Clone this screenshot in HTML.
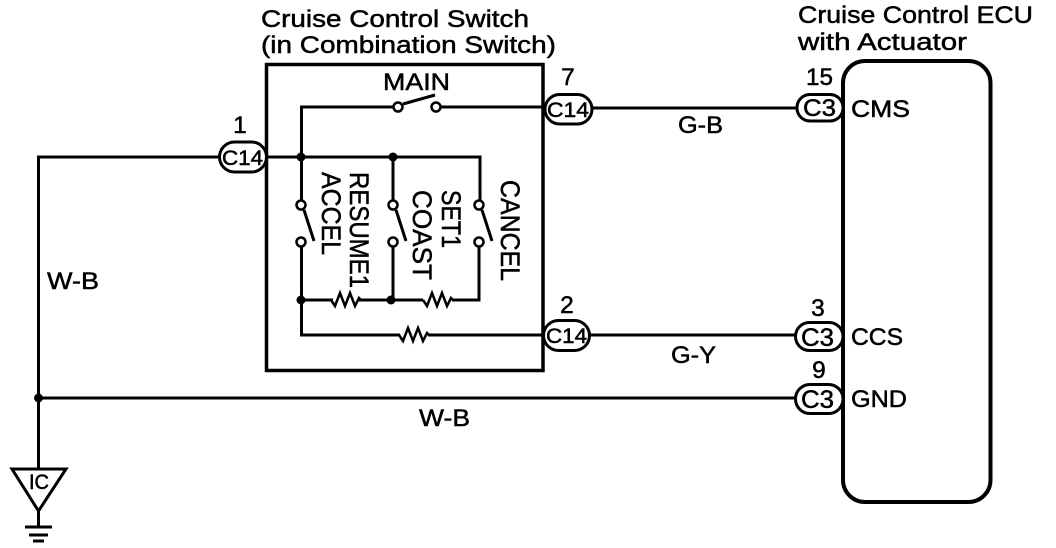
<!DOCTYPE html>
<html><head><meta charset="utf-8"><style>
html,body{margin:0;padding:0;background:#fff;width:1056px;height:548px;overflow:hidden}
svg{display:block}
text{font-family:"Liberation Sans",Arial,sans-serif;fill:#000;stroke:#000;stroke-width:.5}
.l{fill:none;stroke:#000;stroke-width:3}
.c{fill:#fff;stroke:#000;stroke-width:2.5}
.t{font-size:24.5px}
.r{font-size:27px}
</style></head><body>
<svg width="1056" height="548" viewBox="0 0 1056 548" xmlns="http://www.w3.org/2000/svg">
<rect width="1056" height="548" fill="#fff"/>
<!-- titles -->
<text class="t" x="261" y="27" textLength="268" lengthAdjust="spacingAndGlyphs">Cruise Control Switch</text>
<text class="t" x="261" y="53" textLength="295" lengthAdjust="spacingAndGlyphs">(in Combination Switch)</text>
<text class="t" x="798" y="23" textLength="235" lengthAdjust="spacingAndGlyphs">Cruise Control ECU</text>
<text class="t" x="798" y="50" textLength="169" lengthAdjust="spacingAndGlyphs">with Actuator</text>
<!-- boxes -->
<rect x="266.5" y="64.5" width="276.5" height="306" class="l" style="stroke-width:3.5"/>
<rect x="843" y="61" width="147.5" height="441" rx="22" class="l" style="stroke-width:4"/>
<!-- outer wiring -->
<path class="l" d="M219 157H38.5V469M38 398H796M592 108H796M590 335H796"/>
<circle cx="38.5" cy="398" r="4.5"/>
<!-- inner wiring -->
<path class="l" d="M266 157H480V201M301.5 201V107H394M441 107H544M393 157V201M301.5 247V335H400M428 335H543M301 300H333M359 300H423M452 300H479V247M393 247V300"/>
<circle cx="301" cy="157" r="4.5"/><circle cx="393" cy="157" r="4.5"/><circle cx="301" cy="300" r="4.5"/><circle cx="391" cy="300" r="4.5"/>
<!-- switches -->
<path class="l" d="M403 104L435 95M304 210L314 241M396 210L406 241M482 210L492 241"/>
<circle class="c" cx="398" cy="107" r="4.5"/><circle class="c" cx="436" cy="107" r="4.5"/>
<circle class="c" cx="301" cy="205" r="4.5"/><circle class="c" cx="301" cy="242" r="4.5"/>
<circle class="c" cx="393" cy="205" r="4.5"/><circle class="c" cx="393" cy="242" r="4.5"/>
<circle class="c" cx="479" cy="205" r="4.5"/><circle class="c" cx="479" cy="242" r="4.5"/>
<!-- resistors -->
<path class="l" d="M331 300L335 306L340 293L345 306L350 293L355 306L359 298L361 300" style="stroke-width:2.5"/>
<path class="l" d="M423 300L427 306L432 293L437 306L442 293L447 306L451 298L453 300" style="stroke-width:2.5"/>
<path class="l" d="M399 335L403 341L408 328L413 341L418 328L423 341L427 333L429 335" style="stroke-width:2.5"/>
<!-- labels -->
<text class="t" x="383" y="90" textLength="67" lengthAdjust="spacingAndGlyphs">MAIN</text>
<text class="r" transform="translate(350,172) rotate(90)" textLength="116" lengthAdjust="spacingAndGlyphs">RESUME1</text>
<text class="r" transform="translate(322,172) rotate(90)" textLength="83" lengthAdjust="spacingAndGlyphs">ACCEL</text>
<text class="r" transform="translate(442,190) rotate(90)" textLength="58" lengthAdjust="spacingAndGlyphs">SET1</text>
<text class="r" transform="translate(413,190) rotate(90)" textLength="90" lengthAdjust="spacingAndGlyphs">COAST</text>
<text class="r" transform="translate(501,180) rotate(90)" textLength="101" lengthAdjust="spacingAndGlyphs">CANCEL</text>
<!-- pills -->
<rect class="l" x="219.5" y="142" width="47" height="30" rx="15" style="fill:#fff"/>
<rect class="l" x="545" y="94.5" width="47" height="29.5" rx="14.7" style="fill:#fff"/>
<rect class="l" x="543.5" y="320.5" width="46" height="30" rx="15" style="fill:#fff"/>
<rect class="l" x="797" y="94.5" width="46" height="26.5" rx="13" style="fill:#fff"/>
<rect class="l" x="795.5" y="322.5" width="47.5" height="28" rx="14" style="fill:#fff"/>
<rect class="l" x="795.5" y="384.5" width="47.5" height="29" rx="14.5" style="fill:#fff"/>
<text x="222" y="165" font-size="21" textLength="41" lengthAdjust="spacingAndGlyphs">C14</text>
<text x="547" y="117" font-size="21" textLength="42" lengthAdjust="spacingAndGlyphs">C14</text>
<text x="546" y="343" font-size="21" textLength="41" lengthAdjust="spacingAndGlyphs">C14</text>
<text x="803" y="116" font-size="24" textLength="33" lengthAdjust="spacingAndGlyphs">C3</text>
<text x="801" y="346" font-size="25" textLength="33" lengthAdjust="spacingAndGlyphs">C3</text>
<text x="801" y="408" font-size="25" textLength="33" lengthAdjust="spacingAndGlyphs">C3</text>
<!-- pin numbers -->
<text class="t" x="240" y="133" text-anchor="middle">1</text>
<text class="t" x="568" y="85" text-anchor="middle">7</text>
<text class="t" x="567" y="313" text-anchor="middle">2</text>
<text class="t" x="806" y="85" textLength="27" lengthAdjust="spacingAndGlyphs">15</text>
<text class="t" x="818" y="316" text-anchor="middle">3</text>
<text class="t" x="819" y="378" text-anchor="middle">9</text>
<!-- ECU pins -->
<text class="t" x="851" y="117" textLength="59" lengthAdjust="spacingAndGlyphs">CMS</text>
<text class="t" x="851" y="345" textLength="52" lengthAdjust="spacingAndGlyphs">CCS</text>
<text class="t" x="851" y="407" textLength="56" lengthAdjust="spacingAndGlyphs">GND</text>
<!-- wire labels -->
<text class="t" x="678" y="133" textLength="45" lengthAdjust="spacingAndGlyphs">G-B</text>
<text class="t" x="671" y="363" textLength="45" lengthAdjust="spacingAndGlyphs">G-Y</text>
<text class="t" x="419" y="426" textLength="51" lengthAdjust="spacingAndGlyphs">W-B</text>
<text class="t" x="47" y="289" textLength="52" lengthAdjust="spacingAndGlyphs">W-B</text>
<!-- ground -->
<path class="l" d="M12 469H66L38.5 511Z"/>
<text x="29" y="489" font-size="21" textLength="20" lengthAdjust="spacingAndGlyphs">IC</text>
<path class="l" d="M38.5 511V527"/>
<path class="l" d="M25 527H52M29 535H48M33 541H44"/>
</svg>
</body></html>
